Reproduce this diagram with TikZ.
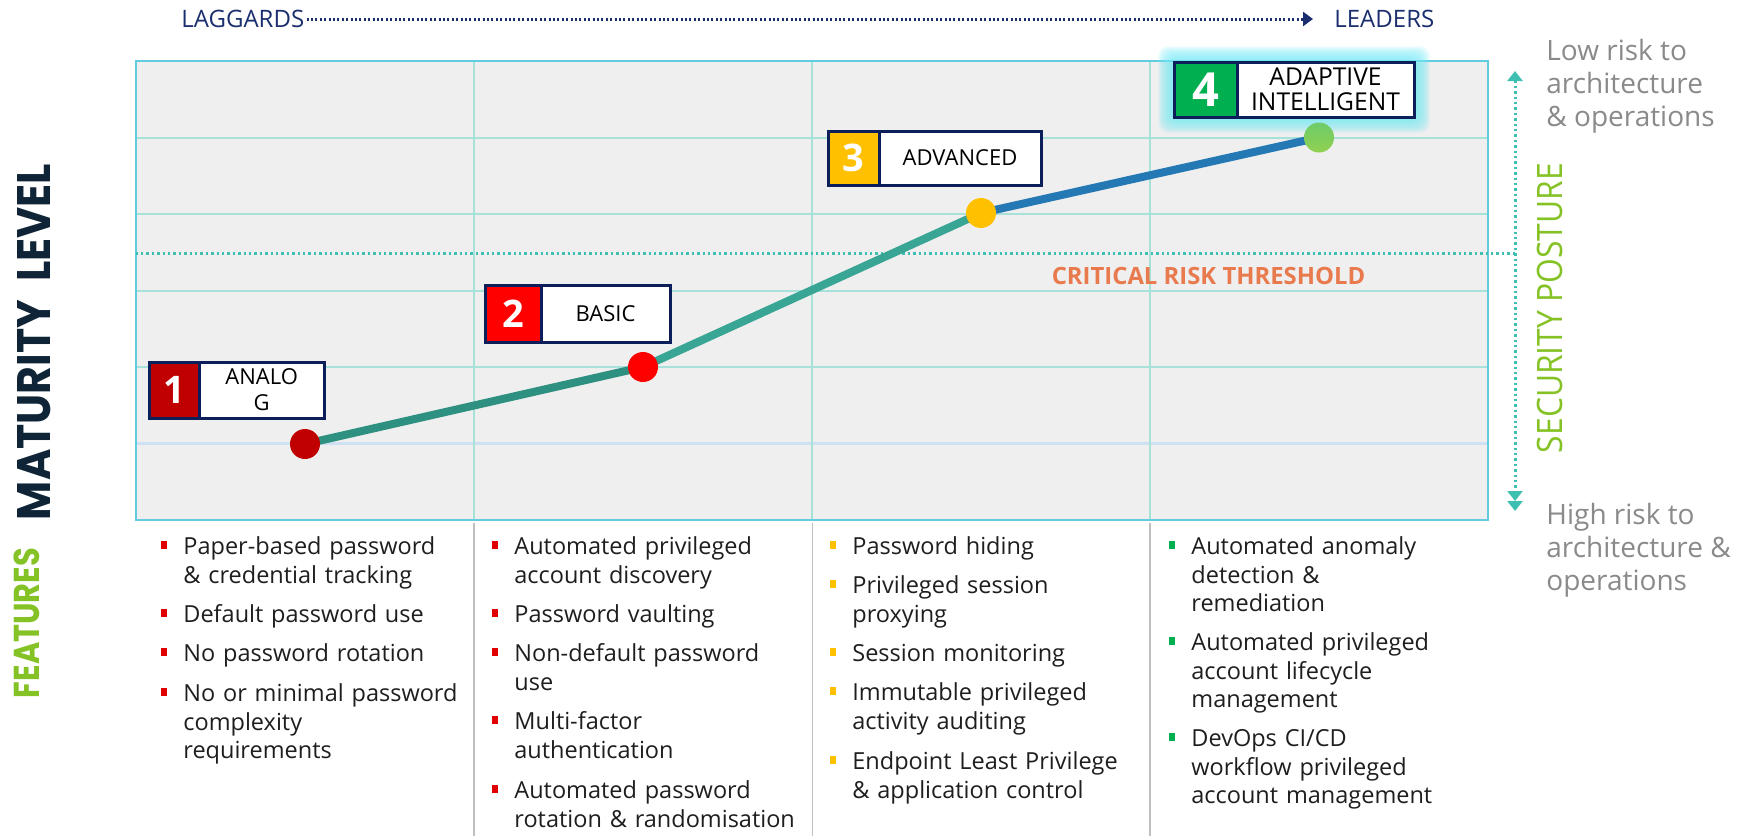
\documentclass[tikz,border=0pt]{standalone}
\usepackage{fontspec}
\setmainfont{Open Sans}
\newfontfamily\popfont{Poppins}
\usepackage{graphicx}
\usetikzlibrary{arrows.meta}
\definecolor{navy}{HTML}{0D1F5A}
\definecolor{topnavy}{HTML}{1B2F6E}
\definecolor{gridbg}{HTML}{EFEFEF}
\definecolor{gridout}{HTML}{62CDE0}
\definecolor{gridin}{HTML}{A6E2DA}
\definecolor{gridlow}{HTML}{CFE2F3}
\definecolor{thr}{HTML}{3DBFB2}
\definecolor{crt}{HTML}{E87A4D}
\definecolor{lime}{HTML}{84C225}
\definecolor{matur}{HTML}{0F2436}
\definecolor{graytxt}{HTML}{8A8A8A}
\definecolor{txt}{HTML}{1E1E1E}
\definecolor{sepc}{HTML}{BFBFBF}
\definecolor{darkred}{HTML}{C00000}
\definecolor{brred}{HTML}{FF0000}
\definecolor{bulred}{HTML}{E00000}
\definecolor{amber}{HTML}{FFC000}
\definecolor{grn}{HTML}{00B050}
\definecolor{segA}{HTML}{2E9080}
\definecolor{segB}{HTML}{38A595}
\definecolor{segC}{HTML}{2478B4}
\definecolor{glow}{HTML}{78EAF7}
\definecolor{greenA}{HTML}{6DCC6A}
\definecolor{greenB}{HTML}{92D050}
\newcommand\bitem[5]{%
  \fill[#4] (#2-22.5,#3-13) rectangle (#2-16.5,#3-5);
  \node[itemtxt] (#1) at (#2,#3-20.1) {\strut #5};
}
\begin{document}
\begin{tikzpicture}[x=0.5pt,y=-0.5pt,
  itemtxt/.style={inner sep=0pt, anchor=north west, text width=170pt, align=left,
    font=\fontsize{11.75pt}{14.35pt}\selectfont, text=txt},
  numbox/.style={draw=navy, line width=1.5pt, text=white, inner sep=0pt,
    font=\bfseries\fontsize{19pt}{19pt}\selectfont},
  lblbox/.style={draw=navy, line width=1.5pt, fill=white, inner sep=0pt, align=center,
    text=black, font=\fontsize{11pt}{13pt}\selectfont},
  dot/.style={circle, inner sep=0pt, minimum size=15pt},
  gridline/.style={gridin, line width=1pt},
  tealdots/.style={thr, line width=1.5pt, dash pattern=on 1.2pt off 1.5pt},
  sidetxt/.style={inner sep=0pt, anchor=north west, align=left, text=graytxt,
    font=\fontsize{14pt}{16.5pt}\selectfont}
]
\useasboundingbox (0,0) rectangle (1744,836);

% chart area
\fill[gridbg] (135.5,61) rectangle (1487.5,520);
\foreach \yy in {137.5,214,290.5,367}
  \draw[gridline] (135.5,\yy) -- (1487.5,\yy);
\draw[gridlow, line width=1.5pt] (135.5,443.5) -- (1487.5,443.5);
\foreach \xx in {473.5,811.5,1149.5}
  \draw[gridline] (\xx,61) -- (\xx,520);
\draw[gridout, line width=1pt] (135.5,61) rectangle (1487.5,520);

% threshold line and security posture arrow
\coordinate (thl) at (135.5,253);
\coordinate (thrr) at (1515,253);
\draw[tealdots] (thl) -- (thrr);
\coordinate (spt) at (1515,71);
\coordinate (spb) at (1515,511);
\draw[tealdots, {Triangle[width=7.5pt,length=5pt]}-{Triangle[width=7.5pt,length=5pt]Triangle[width=7.5pt,length=5pt]}] (spt) -- (spb);

\node[text=crt, inner sep=0pt, font=\bfseries\fontsize{11.9pt}{12pt}\selectfont] (crtxt) at (1208.5,275.5)
  {\resizebox{156.75pt}{\height}{CRITICAL RISK THRESHOLD}};

% top axis
\node[anchor=west, inner sep=0pt, text=topnavy, font=\fontsize{12pt}{12pt}\selectfont] (lag) at (181,19) {LAGGARDS};
\node[anchor=west, inner sep=0pt, text=topnavy, font=\fontsize{12pt}{12pt}\selectfont] (lead) at (1334,19) {LEADERS};
\draw[topnavy, line width=1.5pt, dash pattern=on 1pt off 1.2pt, -{Triangle[width=7pt,length=5pt]}]
  ([xshift=1pt]lag.east) -- ([xshift=-10.5pt]lead.west);

% side texts
\node[sidetxt] (lowrisk) at (1546,36.9) {\strut Low risk to\\architecture\\\& operations};
\node[sidetxt] (highrisk) at (1546,500.9) {\strut High risk to\\architecture \&\\operations};
\node[rotate=90, inner sep=0pt, text=lime, font=\fontsize{17.5pt}{18pt}\selectfont] (secpost) at (1550,308)
  {\resizebox{145pt}{\height}{SECURITY POSTURE}};
\node[rotate=90, inner sep=0pt, text=matur, font=\popfont\bfseries\fontsize{23.5pt}{24pt}\selectfont] (matlvl) at (34.5,342)
  {\resizebox{178pt}{\height}{MATURITY\ \ LEVEL}};
\node[rotate=90, inner sep=0pt, text=lime, font=\popfont\bfseries\fontsize{18pt}{18pt}\selectfont] (feat) at (26.5,623)
  {\resizebox{75pt}{\height}{FEATURES}};

% curve
\coordinate (c1) at (305,444);
\coordinate (c2) at (643,367);
\coordinate (c3) at (981,213);
\coordinate (c4) at (1319,137.5);
\draw[segA, line width=4pt] (c1) -- (c2);
\draw[segB, line width=4pt] (c2) -- (c3);
\draw[segC, line width=4pt] (c3) -- (c4);

% glow around box 4
\foreach \i in {1,...,16}
  \fill[glow, opacity=0.1, rounded corners=5pt] (1174-\i,62-\i) rectangle (1414+\i,117+\i);

% stage boxes
\node[numbox, fill=darkred, minimum width=25.25pt, minimum height=28pt] (n1) at (174.25,390) {1};
\node[lblbox, minimum width=62.25pt, minimum height=28pt] (l1) at (261.75,390) {ANALO\\G};
\node[numbox, fill=brred, minimum width=28pt, minimum height=28.5pt] (n2) at (513,313.5) {2};
\node[lblbox, minimum width=64.5pt, minimum height=28.5pt] (l2) at (605.5,313.5) {BASIC};
\node[numbox, fill=amber, minimum width=25.5pt, minimum height=27pt] (n3) at (853.5,158) {3};
\node[lblbox, minimum width=81pt, minimum height=27pt] (l3) at (960,158) {ADVANCED};
\node[numbox, fill=grn, minimum width=31.5pt, minimum height=27.5pt, font=\bfseries\fontsize{23.5pt}{24pt}\selectfont] (n4) at (1205.5,89.5) {4};
\node[lblbox, minimum width=88.5pt, minimum height=27.5pt, font=\fontsize{12.3pt}{12.7pt}\selectfont] (l4) at (1325.5,89.5) {ADAPTIVE\\INTELLIGENT};

% dots
\node[dot, fill=darkred] (p1) at (c1) {};
\node[dot, fill=brred] (p2) at (c2) {};
\node[dot, fill=amber] (p3) at (c3) {};
\node[dot, top color=greenA, bottom color=greenB] (p4) at (c4) {};

% column separators
\foreach \xx in {474,812.5,1150}
  \draw[sepc, line width=0.75pt] (\xx,523) -- (\xx,836);

% feature lists
\bitem{a1}{183}{554}{bulred}{Paper-based password\\\& credential tracking}
\bitem{a2}{183}{622}{bulred}{Default password use}
\bitem{a3}{183}{661}{bulred}{No password rotation}
\bitem{a4}{183}{701}{bulred}{No or minimal password\\complexity\\requirements}

\bitem{b1}{514}{554}{bulred}{Automated privileged\\account discovery}
\bitem{b2}{514}{622}{bulred}{Password vaulting}
\bitem{b3}{514}{661}{bulred}{Non-default password\\use}
\bitem{b4}{514}{729}{bulred}{Multi-factor\\authentication}
\bitem{b5}{514}{798}{bulred}{Automated password\\rotation \& randomisation}

\bitem{c1t}{852}{554}{amber}{Password hiding}
\bitem{c2t}{852}{593}{amber}{Privileged session\\proxying}
\bitem{c3t}{852}{661}{amber}{Session monitoring}
\bitem{c4t}{852}{700}{amber}{Immutable privileged\\activity auditing}
\bitem{c5t}{852}{769}{amber}{Endpoint Least Privilege\\\& application control}

\bitem{d1}{1191}{554}{grn}{Automated anomaly\\detection \&\\remediation}
\bitem{d2}{1191}{650}{grn}{Automated privileged\\account lifecycle\\management}
\bitem{d3}{1191}{746}{grn}{DevOps CI/CD\\workflow privileged\\account management}
\end{tikzpicture}
\end{document}
